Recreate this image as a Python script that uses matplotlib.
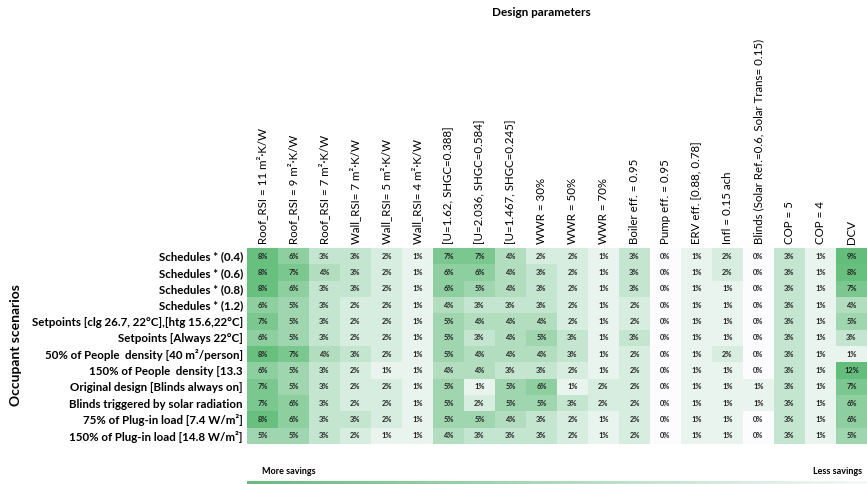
import numpy as np
import matplotlib
matplotlib.use("Agg")
import matplotlib.pyplot as plt
from matplotlib.colors import LinearSegmentedColormap

plt.rcParams['font.family'] = ['Lato', 'DejaVu Sans']

design_params = [
    "Roof_RSI = 11 m²·K/W", "Roof_RSI = 9 m²·K/W", "Roof_RSI = 7 m²·K/W",
    "Wall_RSI= 7 m²·K/W", "Wall_RSI= 5 m²·K/W", "Wall_RSI= 4 m²·K/W",
    "[U=1.62, SHGC=0.388]", "[U=2.036, SHGC=0.584]", "[U=1.467, SHGC=0.245]",
    "WWR = 30%", "WWR = 50%", "WWR = 70%",
    "Boiler eff. = 0.95", "Pump eff. = 0.95", "ERV eff. [0.88, 0.78]",
    "Infl = 0.15 ach", "Blinds (Solar Ref.=0.6, Solar Trans= 0.15)",
    "COP = 5", "COP = 4", "DCV",
]

scenarios = [
    "Schedules * (0.4)", "Schedules * (0.6)", "Schedules * (0.8)",
    "Schedules * (1.2)", "Setpoints [clg 26.7, 22°C],[htg 15.6,22°C]",
    "Setpoints [Always 22°C]", "50% of People  density [40 m²/person]",
    "150% of People  density [13.3", "Original design [Blinds always on]",
    "Blinds triggered by solar radiation", "75% of Plug-in load [7.4 W/m²]",
    "150% of Plug-in load [14.8 W/m²]",
]

# Energy savings (%) per scenario (rows) and design parameter (columns)
sched_04 = [8, 6, 3, 3, 2, 1, 7, 7, 4, 2, 2, 1, 3, 0, 1, 2, 0, 3, 1, 9]
sched_06 = [8, 7, 4, 3, 2, 1, 6, 6, 4, 3, 2, 1, 3, 0, 1, 2, 0, 3, 1, 8]
sched_08 = [8, 6, 3, 3, 2, 1, 6, 5, 4, 3, 2, 1, 3, 0, 1, 1, 0, 3, 1, 7]
sched_12 = [6, 5, 3, 2, 2, 1, 4, 3, 3, 3, 2, 1, 2, 0, 1, 1, 0, 3, 1, 4]
setp_clg_htg = [7, 5, 3, 2, 2, 1, 5, 4, 4, 4, 2, 1, 2, 0, 1, 1, 0, 3, 1, 5]
setp_22 = [6, 5, 3, 2, 2, 1, 5, 3, 4, 5, 3, 1, 3, 0, 1, 1, 0, 3, 1, 3]
people_50 = [8, 7, 4, 3, 2, 1, 5, 4, 4, 4, 3, 1, 2, 0, 1, 2, 0, 3, 1, 1]
people_150 = [6, 5, 3, 2, 1, 1, 4, 4, 3, 3, 2, 1, 2, 0, 1, 1, 0, 3, 1, 12]
blinds_on = [7, 5, 3, 2, 2, 1, 5, 1, 5, 6, 1, 2, 2, 0, 1, 1, 1, 3, 1, 7]
blinds_solar = [7, 6, 3, 2, 2, 1, 5, 2, 5, 5, 3, 2, 2, 0, 1, 1, 1, 3, 1, 6]
plug_75 = [8, 6, 3, 3, 2, 1, 5, 5, 4, 3, 2, 1, 2, 0, 1, 1, 0, 3, 1, 6]
plug_150 = [5, 5, 3, 2, 1, 1, 4, 3, 3, 3, 2, 1, 2, 0, 1, 1, 0, 3, 1, 5]

savings = np.array([sched_04, sched_06, sched_08, sched_12, setp_clg_htg,
                    setp_22, people_50, people_150, blinds_on, blinds_solar,
                    plug_75, plug_150], dtype=float)

W, H = 867, 484
fig = plt.figure(figsize=(W / 100, H / 100), dpi=100)

cmap = LinearSegmentedColormap.from_list("savings", ["#FCFCFF", "#63BE7B"])

x0, x1 = 247, 867
y0, y1 = 248, 444
ax = fig.add_axes([x0 / W, 1 - y1 / H, (x1 - x0) / W, (y1 - y0) / H])
ax.imshow(savings, cmap=cmap, vmin=0, vmax=8.3, aspect='auto',
          interpolation='nearest')
nr, nc = savings.shape
for i in range(nr):
    for j in range(nc):
        ax.text(j, i, f"{int(savings[i, j])}%", ha='center', va='center',
                fontsize=5.4, fontweight='bold', color='#222222')

ax.set_xticks(range(nc))
ax.set_xticklabels(design_params, rotation=90, fontsize=8.3)
ax.xaxis.tick_top()
ax.set_yticks(range(nr))
ax.set_yticklabels(scenarios, fontsize=8.3, fontweight='bold')
ax.tick_params(length=0, pad=3)
for s in ax.spines.values():
    s.set_visible(False)

fig.text(541 / W, 1 - 12 / H, "Design parameters", ha='center', va='center',
         fontsize=8.5, fontweight='bold')
fig.text(16 / W, 1 - 345 / H, "Occupant scenarios", ha='center', va='center',
         rotation=90, fontsize=10, fontweight='bold')

# savings gradient bar
cax = fig.add_axes([x0 / W, 1 - 485 / H, (x1 - x0) / W, 4 / H])
cax.imshow(np.linspace(1, 0.05, 256)[None, :], cmap=cmap, vmin=0, vmax=1,
           aspect='auto')
cax.axis('off')
fig.text(262 / W, 1 - 472 / H, "More savings", ha='left', va='center',
         fontsize=6.5, fontweight='bold')
fig.text(862 / W, 1 - 472 / H, "Less savings", ha='right', va='center',
         fontsize=6.5, fontweight='bold')

fig.savefig("out.png", dpi=100)
